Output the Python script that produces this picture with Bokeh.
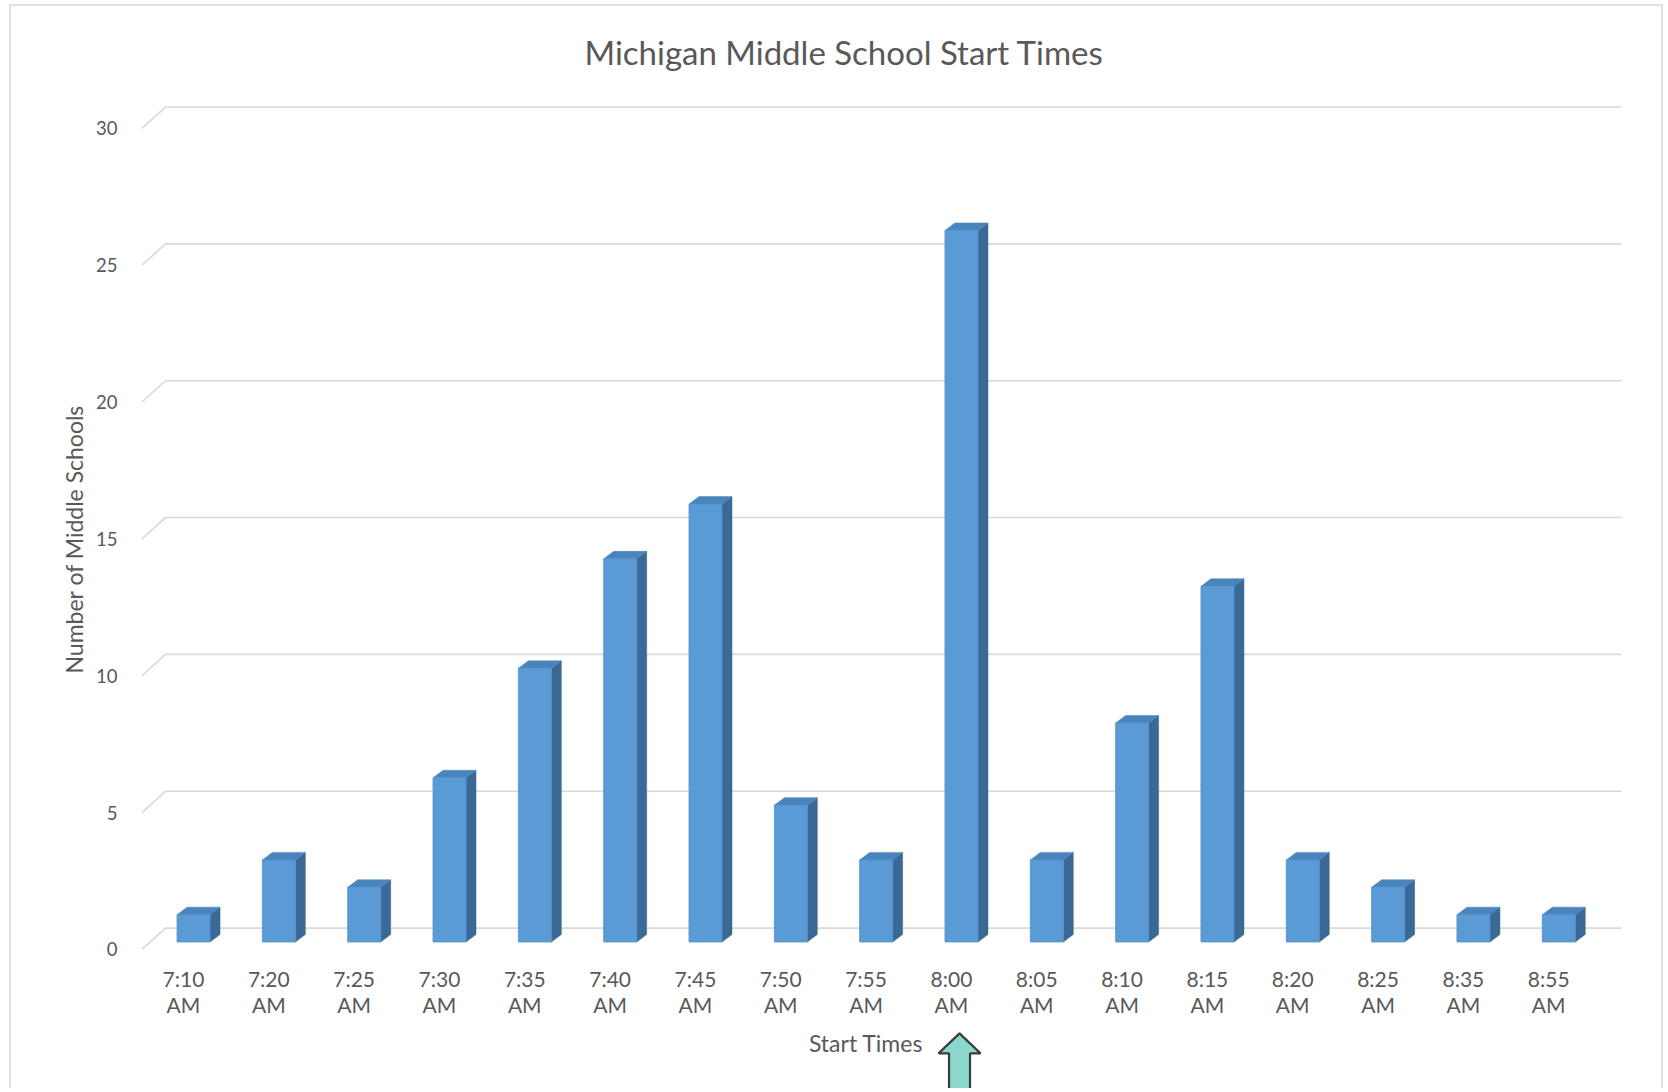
from bokeh.plotting import figure
from bokeh.models import (Range1d, FixedTicker, PolyAnnotation, ColumnDataSource,
                          LinearAxis, Title)
from bokeh.transform import dodge
from bokeh.embed import file_html
from bokeh.resources import INLINE

# ---------------- data ----------------
title_text = "Michigan Middle School Start Times"
x_title = "Start Times"
y_title = "Number of Middle Schools"
categories = ["7:10 AM", "7:20 AM", "7:25 AM", "7:30 AM", "7:35 AM", "7:40 AM",
              "7:45 AM", "7:50 AM", "7:55 AM", "8:00 AM", "8:05 AM", "8:10 AM",
              "8:15 AM", "8:20 AM", "8:25 AM", "8:35 AM", "8:55 AM"]
counts = [1, 3, 2, 6, 10, 14, 16, 5, 3, 26, 3, 8, 13, 3, 2, 1, 1]
y_ticks = [0, 5, 10, 15, 20, 25, 30]
highlight = "8:00 AM"

# ---------------- style ----------------
FONT = "Lato"
TEXT = "#595959"
FRONT = "#5B9BD5"
SIDE = "#3A6996"
TOP = "#4A84BD"
GRID = "#D9D9D9"

PX_X = 85.33          # pixels per category
PX_Y = 27.37          # pixels per unit
BAR_W = 33 / PX_X
BAR_SHIFT = 0.118
DX = 10 / PX_X        # bar depth (3-D look)
DY = 7.5 / PX_Y
WALL_UP = 0.508       # back-wall lift of gridlines
FRONT_DN = 0.27       # front plane drop (where the axis labels sit)
WALL_X0 = -0.211
WALL_XD = -0.486
WALL_X1 = 16.854

Y0, Y1 = -5.426, 30.93

n = len(categories)
xs = list(range(n))

p = figure(width=1654, height=1084,
           x_range=Range1d(-0.527, 16.90), y_range=Range1d(Y0, Y1),
           y_axis_location=None,
           output_backend="svg", toolbar_location=None,
           min_border_left=127, min_border_right=40,
           min_border_top=89, min_border_bottom=0,
           styles={"margin-left": "9px", "margin-top": "4px",
                   "border": "2px solid #E2E2E2", "border-bottom": "none"})
p.xgrid.visible = False
p.ygrid.visible = False
p.outline_line_color = None
p.background_fill_color = "white"

# back-wall gridlines with perspective
p.multi_line(xs=[[WALL_XD, WALL_X0, WALL_X1] for t in y_ticks],
             ys=[[t - FRONT_DN, t + WALL_UP, t + WALL_UP] for t in y_ticks],
             line_color=GRID, line_width=1.6)

# 3D bars
src = ColumnDataSource(dict(x=xs, top=counts))
side_xs, side_ys, top_xs, top_ys = [], [], [], []
for i, v in zip(xs, counts):
    xl = i + BAR_SHIFT - BAR_W / 2
    xr = xl + BAR_W
    side_xs.append([xr, xr + DX, xr + DX, xr])
    side_ys.append([0, DY, v + DY, v])
    top_xs.append([xl, xl + DX, xr + DX, xr])
    top_ys.append([v, v + DY, v + DY, v])
p.patches(side_xs, side_ys, fill_color=SIDE, line_color=SIDE, line_width=0.5)
p.patches(top_xs, top_ys, fill_color=TOP, line_color=TOP, line_width=0.5)
p.vbar(x=dodge("x", BAR_SHIFT), top="top", bottom=0, width=BAR_W, source=src,
       fill_color=FRONT, line_color="#5291CA", line_width=0.8)

# value axis on the front plane of the 3-D floor
p.extra_y_ranges = {"front": Range1d(Y0 + FRONT_DN, Y1 + FRONT_DN)}
ya = LinearAxis(y_range_name="front")
ya.ticker = FixedTicker(ticks=y_ticks)
ya.axis_line_color = None
ya.major_tick_line_color = None
ya.minor_tick_line_color = None
ya.major_label_standoff = 15
ya.major_label_text_font = FONT
ya.major_label_text_font_size = "18.5px"
ya.major_label_text_color = TEXT
p.add_layout(ya, "left")

yt = Title(text=y_title, align="left", offset=417, vertical_align="middle",
           text_font=FONT, text_font_size="23px", text_font_style="normal",
           text_color=TEXT, standoff=10)
p.add_layout(yt, "left")

# category axis, fixed just under the floor
xa = p.xaxis[0]
xa.fixed_location = -0.5
xa.bounds = (-0.01, 16.01)
xa.ticker = FixedTicker(ticks=xs)
xa.major_label_overrides = {i: c.replace(" ", "\n") for i, c in zip(xs, categories)}
xa.axis_line_color = None
xa.major_tick_line_color = None
xa.minor_tick_line_color = None
xa.major_label_standoff = 4
xa.major_label_text_font = FONT
xa.major_label_text_font_size = "21px"
xa.major_label_text_color = TEXT
xa.major_label_text_line_height = 1.05
xa.axis_label = x_title
xa.axis_label_standoff = 9
xa.axis_label_text_font = FONT
xa.axis_label_text_font_size = "23px"
xa.axis_label_text_font_style = "normal"
xa.axis_label_text_color = TEXT

p.title.text = title_text
p.title.align = "left"
p.title.offset = 446
p.title.text_font = FONT
p.title.text_font_size = "33px"
p.title.text_font_style = "normal"
p.title.text_color = TEXT
p.title.standoff = 47

# arrow pointing at the highlighted start time
hx = categories.index(highlight) + 0.095
arrow = PolyAnnotation(
    xs=[hx, hx + 0.246, hx + 0.123, hx + 0.123, hx - 0.123, hx - 0.123, hx - 0.246],
    ys=[-3.34, -4.07, -4.07, -6.5, -6.5, -4.07, -4.07],
    fill_color="#8AD7CD", fill_alpha=1.0,
    line_color="#3C3C3C", line_alpha=1.0, line_width=2.2)
p.add_layout(arrow)

open("out.html", "w").write(file_html(p, INLINE))
